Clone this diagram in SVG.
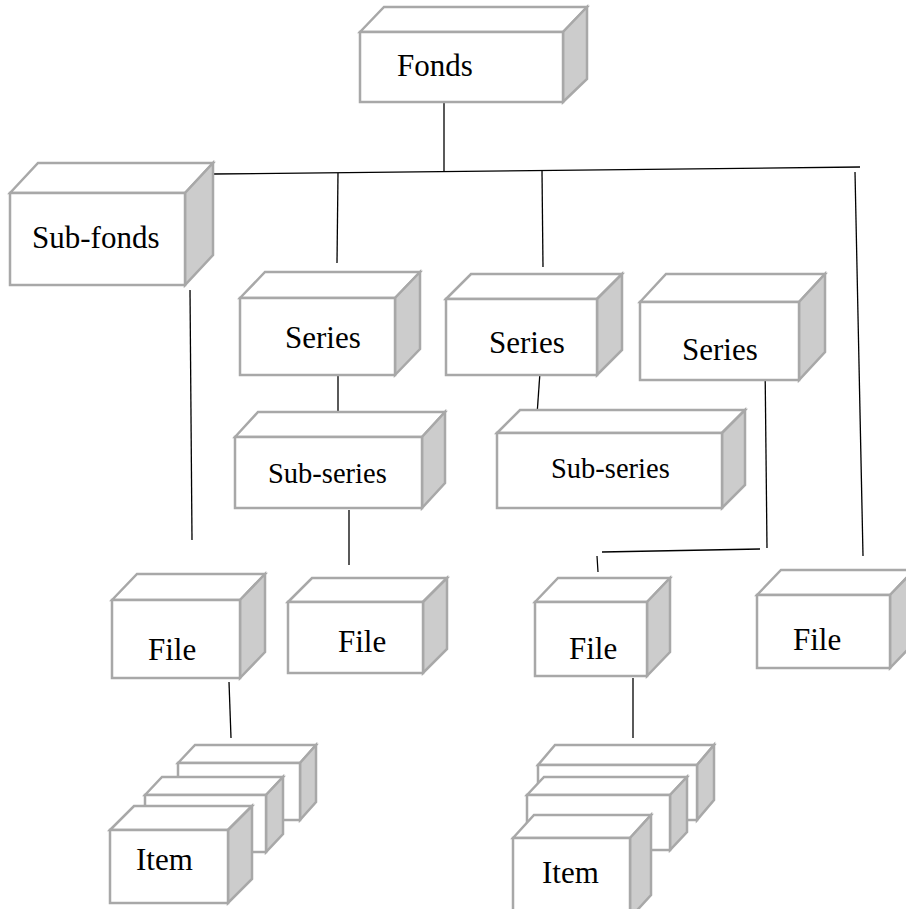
<svg xmlns="http://www.w3.org/2000/svg" width="906" height="909" viewBox="0 0 906 909">
<style>
.f{fill:#ffffff;stroke:#a8a8a8;stroke-width:2.5;stroke-linejoin:miter}
.s{fill:#cccccc;stroke:#a8a8a8;stroke-width:2.5}
.t{font-family:"Liberation Serif","Times New Roman",serif;font-size:31px;fill:#000}
.ts{font-family:"Liberation Serif","Times New Roman",serif;font-size:28.5px;fill:#000}
.c line{stroke:#000;stroke-width:1.3}
</style>
<rect width="906" height="909" fill="#fff"/>
<g class="c" id="connectors">
<line x1="444" y1="102" x2="444" y2="172"/>
<line x1="213" y1="174" x2="860" y2="167"/>
<line x1="338" y1="173" x2="337" y2="263"/>
<line x1="542" y1="171" x2="543" y2="267"/>
<line x1="855" y1="172" x2="863" y2="556"/>
<line x1="190" y1="290" x2="192" y2="540"/>
<line x1="338" y1="375" x2="338" y2="416"/>
<line x1="540" y1="372" x2="537" y2="415"/>
<line x1="765" y1="360" x2="767" y2="548"/>
<line x1="760" y1="549" x2="602" y2="552"/>
<line x1="597" y1="556" x2="598" y2="572"/>
<line x1="349" y1="510" x2="349" y2="565"/>
<line x1="229" y1="682" x2="231" y2="738"/>
<line x1="633" y1="678" x2="633" y2="738"/>
</g>
<g id="fonds">
<polygon class="f" points="360,32 384,7 587,7 563,32"/>
<polygon class="s" points="563,32 587,7 587,79 563,102"/>
<rect class="f" x="360" y="32" width="203" height="70"/>
<text class="t" x="397" y="76">Fonds</text>
</g>
<g id="subfonds">
<polygon class="f" points="10,193 38,163 213,163 185,193"/>
<polygon class="s" points="185,193 213,163 213,255 185,285"/>
<rect class="f" x="10" y="193" width="175" height="92"/>
<text class="t" x="32" y="248">Sub-fonds</text>
</g>
<g id="series1">
<polygon class="f" points="240,298 265,272 420,272 395,298"/>
<polygon class="s" points="395,298 420,272 420,349 395,375"/>
<rect class="f" x="240" y="298" width="155" height="77"/>
<text class="t" x="285" y="348">Series</text>
</g>
<g id="series2">
<polygon class="f" points="446,299 471,274 622,274 597,299"/>
<polygon class="s" points="597,299 622,274 622,350 597,375"/>
<rect class="f" x="446" y="299" width="151" height="76"/>
<text class="t" x="489" y="353">Series</text>
</g>
<g id="series3">
<polygon class="f" points="640,302 666,274 825,274 799,302"/>
<polygon class="s" points="799,302 825,274 825,352 799,380"/>
<rect class="f" x="640" y="302" width="159" height="78"/>
<text class="t" x="682" y="360">Series</text>
</g>
<g id="subseries1">
<polygon class="f" points="235,437 258,412 445,412 422,437"/>
<polygon class="s" points="422,437 445,412 445,483 422,508"/>
<rect class="f" x="235" y="437" width="187" height="71"/>
<text class="ts" x="268" y="483">Sub-series</text>
</g>
<g id="subseries2">
<polygon class="f" points="497,433 520,410 745,410 722,433"/>
<polygon class="s" points="722,433 745,410 745,485 722,508"/>
<rect class="f" x="497" y="433" width="225" height="75"/>
<text class="ts" x="551" y="478">Sub-series</text>
</g>
<g id="file1">
<polygon class="f" points="112,600 137,574 265,574 240,600"/>
<polygon class="s" points="240,600 265,574 265,652 240,678"/>
<rect class="f" x="112" y="600" width="128" height="78"/>
<text class="t" x="148" y="660">File</text>
</g>
<g id="file2">
<polygon class="f" points="288,602 312,578 447,578 423,602"/>
<polygon class="s" points="423,602 447,578 447,649 423,673"/>
<rect class="f" x="288" y="602" width="135" height="71"/>
<text class="t" x="338" y="652">File</text>
</g>
<g id="file3">
<polygon class="f" points="535,602 558,578 670,578 647,602"/>
<polygon class="s" points="647,602 670,578 670,652 647,676"/>
<rect class="f" x="535" y="602" width="112" height="74"/>
<text class="t" x="569" y="659">File</text>
</g>
<g id="file4">
<polygon class="f" points="757,595 781,570 914,570 890,595"/>
<polygon class="s" points="890,595 914,570 914,643 890,668"/>
<rect class="f" x="757" y="595" width="133" height="73"/>
<text class="t" x="793" y="650">File</text>
</g>
<g id="items1">
<polygon class="f" points="178,763 195,745 316,745 300,763"/>
<polygon class="s" points="300,763 316,745 316,802 300,820"/>
<rect class="f" x="178" y="763" width="122" height="57"/>
<polygon class="f" points="145,795 162,777 283,777 266,795"/>
<polygon class="s" points="266,795 283,777 283,834 266,852"/>
<rect class="f" x="145" y="795" width="121" height="57"/>
<polygon class="f" points="110,830 134,806 252,806 228,830"/>
<polygon class="s" points="228,830 252,806 252,879 228,903"/>
<rect class="f" x="110" y="830" width="118" height="73"/>
<text class="t" x="136" y="870">Item</text>
</g>
<g id="items2">
<polygon class="f" points="538,765 555,745 714,745 697,765"/>
<polygon class="s" points="697,765 714,745 714,800 697,820"/>
<rect class="f" x="538" y="765" width="159" height="55"/>
<polygon class="f" points="527,795 544,777 687,777 670,795"/>
<polygon class="s" points="670,795 687,777 687,832 670,850"/>
<rect class="f" x="527" y="795" width="143" height="55"/>
<polygon class="f" points="513,838 534,815 651,815 630,838"/>
<polygon class="s" points="630,838 651,815 651,895 630,918"/>
<rect class="f" x="513" y="838" width="117" height="80"/>
<text class="t" x="542" y="883">Item</text>
</g>
</svg>
